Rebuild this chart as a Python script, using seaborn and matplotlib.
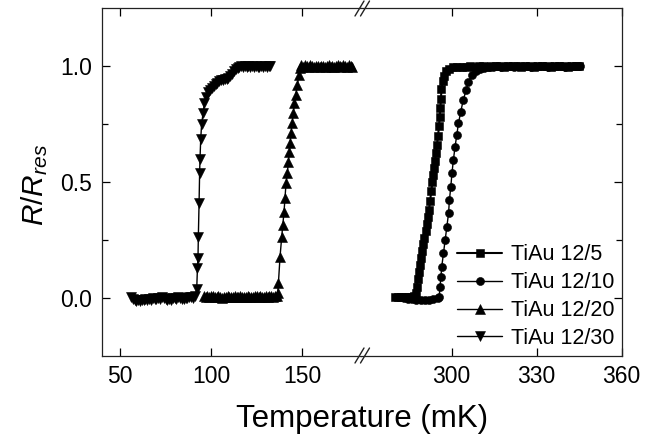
import matplotlib
matplotlib.use("Agg")
import matplotlib.pyplot as plt
import seaborn as sns
from matplotlib.lines import Line2D
from matplotlib.ticker import FixedLocator

# ---------------- data ----------------
LABELS = ["TiAu 12/5", "TiAu 12/10", "TiAu 12/20", "TiAu 12/30"]

# TiAu 12/30  (left axis segment)
T30_X = [56, 57, 58, 59, 60, 61, 62, 63, 64, 65,
         66, 67, 68, 69, 70, 71, 72, 73, 74, 75,
         76, 77, 78, 79, 80, 81, 82, 83, 84, 85,
         86, 87, 88, 89, 90, 91,
         92.1, 92.5, 92.8, 93.0, 93.4, 93.7, 93.9, 94.3, 94.8, 95.6,
         96.3, 97.2, 98.5, 99.4, 100.3, 101.5, 102.5, 103.5, 104.5, 105.5,
         106.5, 107.5, 108.5, 109.5, 110.5, 111.5, 112.5, 113.5, 114.5, 115.5,
         116.5, 117.5, 118.5, 119.5, 120.5, 121.5, 122.5, 123.5, 124.5, 125.5,
         126.5, 127.5, 128.5, 129.5, 130.5, 131.5, 132.3]
T30_Y = [0.002, -0.004, -0.010, -0.014, -0.012, -0.016, -0.008, -0.012, -0.006, -0.010,
         -0.004, -0.008, -0.002, -0.006, -0.004, 0.000, -0.004, 0.002, -0.002, -0.006,
         -0.010, -0.004, -0.008, -0.002, 0.000, -0.004, 0.002, -0.002, -0.006, -0.004,
         0.000, -0.002, 0.002, 0.004, 0.000, 0.006,
         0.036, 0.127, 0.170, 0.264, 0.411, 0.538, 0.598, 0.685, 0.751, 0.797,
         0.840, 0.869, 0.891, 0.898, 0.905, 0.915, 0.922, 0.930, 0.937, 0.940,
         0.943, 0.944, 0.946, 0.950, 0.958, 0.968, 0.978, 0.988, 0.994, 0.998,
         1.000, 0.997, 1.002, 0.998, 1.001, 0.997, 1.000, 0.998, 1.002, 0.999,
         0.997, 1.001, 0.998, 1.002, 0.999, 1.001, 1.000]

# TiAu 12/20  (left axis segment)
T20_X = [96, 97, 98, 99, 100, 101, 102, 103, 104, 105,
         106, 107, 108, 109, 110, 111, 112, 113, 114, 115,
         116, 117, 118, 119, 120, 121, 122, 123, 124, 125,
         126, 127, 128, 129, 130, 131, 132, 133, 134, 135, 136,
         136.5, 136.9, 137.8, 138.7, 139.3, 140.0, 140.5, 141.1, 141.8, 142.4,
         142.9, 143.3, 143.8, 144.4, 145.1, 145.7, 146.4, 147.3, 148.2, 148.8,
         149.5, 150.5, 151.5, 152.5, 153.5, 154.5, 155.5, 156.5, 157.5, 158.5,
         159.5, 160.5, 161.5, 162.5, 163.5, 164.5, 165.5, 166.5, 167.5, 168.5,
         169.5, 170.5, 171.5, 172.5, 173.5, 174.5, 175.5, 176.5, 177.2]
T20_Y = [0.008, 0.004, 0.006, 0.002, 0.006, 0.008, 0.004, 0.002, 0.006, 0.004,
         0.000, 0.004, 0.002, 0.006, 0.004, 0.002, 0.004, 0.006, 0.002, 0.004,
         0.006, 0.004, 0.002, 0.004, 0.006, 0.004, 0.002, 0.004, 0.006, 0.008,
         0.004, 0.006, 0.004, 0.002, 0.006, 0.004, 0.006, 0.008, 0.004, 0.006, 0.008,
         0.019, 0.062, 0.177, 0.261, 0.314, 0.372, 0.430, 0.495, 0.538, 0.588,
         0.631, 0.667, 0.711, 0.754, 0.797, 0.840, 0.876, 0.920, 0.963, 0.992,
         1.004, 0.998, 1.006, 1.002, 0.999, 1.004, 1.001, 0.997, 1.002, 1.000,
         0.998, 1.003, 1.000, 0.997, 1.001, 1.004, 0.999, 1.002, 0.998, 1.001,
         1.005, 1.002, 0.999, 1.006, 1.003, 0.998, 1.004, 1.001, 0.997]

# TiAu 12/5  (right axis segment)
T5_X = [280, 281, 282, 283, 284, 285, 286, 286.8,
        287.3, 287.7, 288.1, 288.5, 288.9, 289.3, 289.7, 290.0, 290.4, 290.8,
        291.2, 291.6, 292.0, 292.4, 292.8, 293.2, 293.5, 293.8, 294.1, 294.5,
        294.8, 295.2, 295.5, 295.8, 296.0, 296.2, 296.4, 296.8, 297.3, 298.0,
        299.0, 300.5,
        302, 303.5, 305, 306.5, 308, 309.5, 311, 312.5, 314, 315.5,
        317, 318.5, 320, 321.5, 323, 324.5, 326, 327.5, 329, 330.5,
        332, 333.5, 335, 336.5, 338, 339.5, 341, 342.5, 344, 345]
T5_Y = [0.004, 0.002, 0.004, 0.003, 0.002, 0.004, 0.003, 0.006,
        0.020, 0.048, 0.080, 0.110, 0.140, 0.170, 0.200, 0.230, 0.260, 0.290,
        0.320, 0.350, 0.380, 0.420, 0.460, 0.500, 0.530, 0.560, 0.590, 0.625,
        0.660, 0.700, 0.740, 0.780, 0.820, 0.860, 0.900, 0.935, 0.960, 0.980,
        0.990, 0.995,
        0.997, 0.998, 0.999, 1.000, 0.999, 1.000, 1.001, 0.999, 1.000, 1.001,
        1.000, 0.999, 1.001, 1.000, 1.000, 0.999, 1.001, 1.000, 0.999, 1.000,
        1.001, 1.000, 0.999, 1.000, 1.001, 1.000, 0.999, 1.000, 1.001, 1.000]

# TiAu 12/10  (right axis segment)
T10_X = [281.5, 283, 284.5, 286, 287.5, 289, 290.5, 292, 293.5, 295, 295.6,
         295.9, 296.2, 296.5, 297.1, 297.7, 298.3, 298.9, 299.2, 299.7, 300.1,
         300.6, 301.2, 301.8, 302.4, 303.2, 304.1, 305.1, 305.9, 307.1, 308.5,
         310.0, 311.5, 313.0,
         314.5, 316, 317.5, 319, 320.5, 322, 323.5, 325, 326.5, 328,
         329.5, 331, 332.5, 334, 335.5, 337, 338.5, 340, 341.5, 343, 344.5, 345.3]
T10_Y = [0.002, -0.002, -0.004, -0.006, -0.008, -0.010, -0.010, -0.008, -0.006, -0.002, 0.004,
         0.048, 0.090, 0.134, 0.192, 0.249, 0.307, 0.365, 0.422, 0.480, 0.538,
         0.595, 0.653, 0.703, 0.754, 0.804, 0.855, 0.898, 0.934, 0.962, 0.978,
         0.988, 0.994, 0.997,
         0.999, 1.000, 0.999, 1.001, 1.000, 0.999, 1.000, 1.001, 1.000, 0.999,
         1.000, 1.001, 1.000, 0.999, 1.000, 1.001, 1.000, 0.999, 1.000, 1.001, 1.000, 1.000]

LEFT_TICKS = [50, 100, 150]
RIGHT_TICKS = [300, 330, 360]
Y_TICKS = [0.0, 0.5, 1.0]
Y_TICKLABELS = ["0.0", "0.5", "1.0"]

# ---------------- style ----------------
sns.set_style("ticks")
plt.rcParams["font.family"] = ["Liberation Sans", "DejaVu Sans"]
plt.rcParams["mathtext.fontset"] = "custom"
plt.rcParams["mathtext.it"] = "Liberation Sans:italic"
plt.rcParams["mathtext.rm"] = "Liberation Sans"
plt.rcParams["text.color"] = "black"
plt.rcParams["xtick.color"] = "black"
plt.rcParams["ytick.color"] = "black"

W, H = 665, 444
fig = plt.figure(figsize=(W / 100, H / 100), dpi=100)


def fx(px):
    return px / W


def fy(py):
    return 1 - py / H


L, BOT, MID, R, TOP = 101.7, 355.5, 361.0, 621.7, 8.5
ax1 = fig.add_axes([fx(L), fy(BOT), fx(MID) - fx(L), fy(TOP) - fy(BOT)])
ax2 = fig.add_axes([fx(MID), fy(BOT), fx(R) - fx(MID), fy(TOP) - fy(BOT)])

series = [
    (ax2, T10_X, T10_Y, "o", 5.8, 1.0, LABELS[1]),
    (ax2, T5_X, T5_Y, "s", 5.3, 1.5, LABELS[0]),
    (ax1, T20_X, T20_Y, "^", 6.8, 1.0, LABELS[2]),
    (ax1, T30_X, T30_Y, "v", 6.8, 1.0, LABELS[3]),
]
for ax, xs, ys, mk, ms, lw, lab in series:
    sns.lineplot(x=xs, y=ys, ax=ax, sort=False, estimator=None, color="black",
                 marker=mk, markersize=ms, markeredgecolor="black",
                 markerfacecolor="black", markeredgewidth=0.4,
                 linewidth=lw, label=lab, legend=False)

for ax in (ax1, ax2):
    if ax.get_legend() is not None:
        ax.get_legend().remove()
    ax.set_ylim(-0.25, 1.25)
    ax.set_xlabel("")
    ax.set_ylabel("")
    ax.set_yticks(Y_TICKS)
    ax.yaxis.set_minor_locator(FixedLocator([0.25, 0.75]))
    ax.tick_params(which="both", direction="in", top=True, bottom=True,
                   width=0.9, labelsize=16.5)
    ax.tick_params(which="major", length=6)
    ax.tick_params(which="minor", length=4)
    ax.tick_params(axis="x", pad=6.5)
    for s in ax.spines.values():
        s.set_linewidth(0.9)
        s.set_color("#222222")

ax1.set_xlim(40, 182.2)
ax2.set_xlim(268, 360)
ax1.set_xticks(LEFT_TICKS)
ax2.set_xticks(RIGHT_TICKS)
ax1.set_yticklabels(Y_TICKLABELS)
ax1.spines["right"].set_visible(False)
ax2.spines["left"].set_visible(False)
ax1.tick_params(axis="y", which="both", left=True, right=False, pad=7)
ax2.tick_params(axis="y", which="both", left=False, right=True,
                labelleft=False, labelright=False)

# axis break marks "//"
for cy in (TOP, BOT):
    for off in (-6.0, -0.5):
        fig.add_artist(Line2D([fx(MID + off), fx(MID + off + 9)],
                              [fy(cy + 7.5), fy(cy - 7.5)],
                              color="#222222", lw=1.0))

# legend
hd = {}
for ax in (ax1, ax2):
    h, l = ax.get_legend_handles_labels()
    hd.update(dict(zip(l, h)))
ax2.legend([hd[k] for k in LABELS], LABELS, loc="center left",
           bbox_to_anchor=(fx(457), fy(296.7)), bbox_transform=fig.transFigure,
           frameon=False, fontsize=15.5, handlelength=2.1, handletextpad=0.4,
           labelspacing=0.32, borderpad=0, borderaxespad=0, numpoints=1)

fig.text(fx((L + R) / 2), fy(419), "Temperature (mK)", ha="center", va="center",
         fontsize=22.5)
fig.text(fx(35), fy(185), r"$\mathit{R/R}_{\mathit{res}}$", rotation=90,
         ha="center", va="center", fontsize=21.5)

fig.savefig("out.png", dpi=100)
